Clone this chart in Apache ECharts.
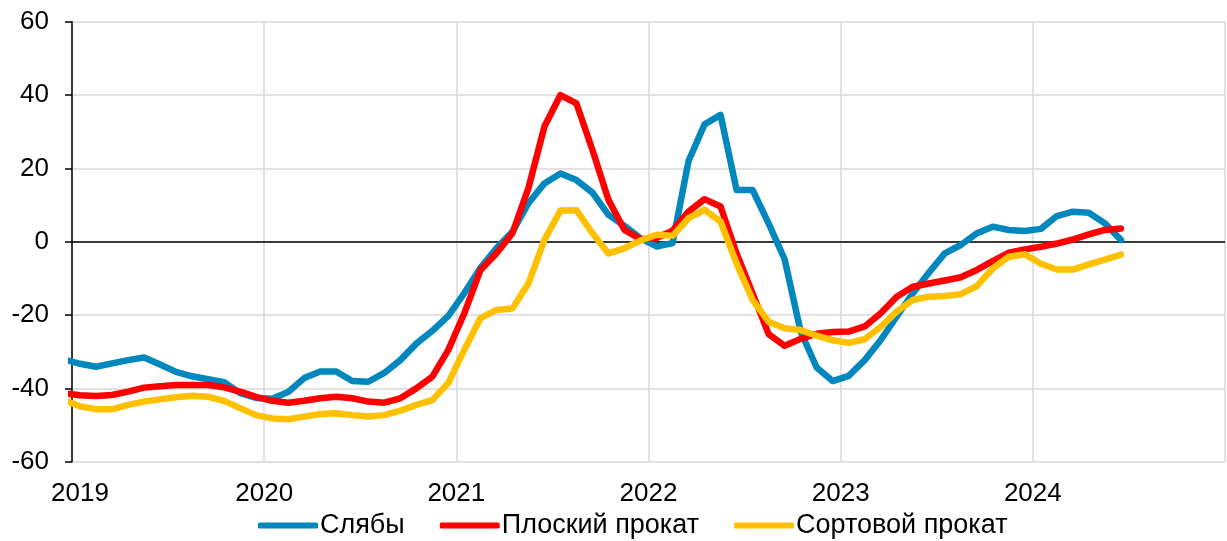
<!DOCTYPE html>
<html>
<head>
<meta charset="utf-8">
<script src="https://cdn.jsdelivr.net/npm/echarts@6/dist/echarts.min.js"></script>
<style>
html,body{margin:0;padding:0;background:#fff;}
#chart{width:1227px;height:541px;}
</style>
</head>
<body>
<div id="chart"></div>
<script>
// Monthly data, mid-month points, starting Dec 2018 (first point clipped at the axis)
const startYear = 2019;
const endYear = 2025;
const firstMonthOffset = -1; // Dec 2018 relative to Jan 2019
const seriesNames = ['Слябы', 'Плоский прокат', 'Сортовой прокат'];
const yTicks = { min: -60, max: 60, step: 20 };

const slabs = [
  -32.1,
  -33.3, -34.1, -33.2, -32.3, -31.6, -33.5, -35.5, -36.7, -37.5, -38.3, -41.3, -42.6,
  -42.8, -41.0, -37.2, -35.4, -35.4, -38.0, -38.2, -35.8, -32.3, -27.8, -24.3, -20.2,
  -14.0, -7.2, -1.8, 2.7, 10.5, 15.9, 18.6, 16.8, 13.4, 7.3, 4.3, 0.9,
  -1.3, -0.4, 22.0, 32.0, 34.6, 14.1, 14.1, 5.0, -4.8, -24.5, -34.3, -38.0,
  -36.6, -32.3, -26.8, -20.4, -14.1, -8.5, -3.2, -0.9, 2.3, 4.1, 3.2, 2.9,
  3.5, 7.0, 8.2, 7.9, 5.0, 0.5
];
const flat = [
  -41.3,
  -41.9, -42.1, -41.8, -40.9, -39.8, -39.4, -39.1, -39.1, -39.1, -39.7, -40.9, -42.3,
  -43.4, -43.9, -43.4, -42.7, -42.3, -42.7, -43.6, -43.9, -42.7, -40.0, -36.8, -29.5,
  -19.5, -7.8, -3.2, 2.3, 14.6, 31.4, 40.0, 37.7, 25.0, 11.4, 3.2, 0.7,
  1.0, 3.0, 8.2, 11.6, 9.6, -3.2, -14.1, -25.2, -28.4, -26.5, -25.1, -24.6,
  -24.5, -23.1, -19.5, -15.0, -12.3, -11.4, -10.6, -9.7, -7.7, -5.3, -3.0, -2.1,
  -1.4, -0.5, 0.6, 2.0, 3.2, 3.6
];
const bars = [
  -43.2,
  -44.9, -45.7, -45.7, -44.5, -43.6, -43.0, -42.4, -42.0, -42.3, -43.4, -45.4, -47.3,
  -48.2, -48.4, -47.7, -47.0, -46.8, -47.3, -47.7, -47.3, -46.1, -44.5, -43.2, -38.5,
  -29.5, -20.9, -18.6, -18.2, -11.4, 0.5, 8.5, 8.6, 2.3, -3.2, -1.8, 0.3,
  1.9, 1.6, 6.4, 8.7, 5.5, -5.9, -15.9, -21.8, -23.6, -24.1, -25.6, -26.9,
  -27.6, -26.6, -23.2, -19.1, -15.9, -15.0, -14.8, -14.3, -12.1, -7.3, -4.1, -3.4,
  -6.0, -7.6, -7.6, -6.2, -4.9, -3.5
];
const colors = ['#0087BE', '#FF0000', '#FFC000'];

function toPoints(arr) {
  return arr.map((v, i) => [firstMonthOffset + i + 0.5, v]);
}

const FONT = 'Liberation Sans, Arial, sans-serif';
const FS = 26;
const chart = echarts.init(document.getElementById('chart'));

const seriesData = [slabs, flat, bars];
const series = seriesData.map((arr, k) => ({
  name: seriesNames[k],
  type: 'line',
  data: toPoints(arr),
  symbol: 'none',
  clip: true,
  smooth: false,
  lineStyle: { color: colors[k], width: 6.5, cap: 'round', join: 'round' },
  itemStyle: { color: colors[k] },
  z: 3 + k,
  animation: false
}));
series[0].markLine = {
  silent: true,
  symbol: 'none',
  label: { show: false },
  lineStyle: { color: '#000', width: 1.6, type: 'solid' },
  data: [{ yAxis: 0 }],
  animation: false,
  z: 2
};

chart.setOption({
  animation: false,
  backgroundColor: '#fff',
  textStyle: { fontFamily: FONT },
  grid: { left: 72, right: 2, top: 21.7, bottom: 79.3, containLabel: false, outerBoundsMode: 'none' },
  xAxis: {
    type: 'value',
    min: 0, max: (endYear - startYear) * 12, interval: 12,
    axisLine: { show: false },
    axisTick: { show: false },
    splitLine: { show: true, lineStyle: { color: '#d9d9d9', width: 1.5 } },
    axisLabel: {
      fontSize: FS, color: '#000', fontFamily: FONT, margin: 19,
      showMaxLabel: false,
      formatter: v => {
        const y = startYear + v / 12;
        if (y >= endYear) return '';
        return v === 0 ? '{first|' + y + '}' : String(y);
      },
      rich: { first: { fontSize: FS, color: '#000', fontFamily: FONT, padding: [0, 0, 0, 16] } }
    }
  },
  yAxis: {
    type: 'value',
    min: yTicks.min, max: yTicks.max, interval: yTicks.step,
    axisLine: { show: true, onZero: false, lineStyle: { color: '#000', width: 1.5 } },
    axisTick: { show: true, inside: false, length: 7, lineStyle: { color: '#000', width: 1.5 } },
    splitLine: { show: true, lineStyle: { color: '#d9d9d9', width: 1.5 } },
    axisLabel: { fontSize: FS, color: '#000', fontFamily: FONT, margin: 23 }
  },
  legend: {
    data: seriesNames,
    bottom: 2,
    left: 258,
    padding: 0,
    icon: 'roundRect',
    itemWidth: 60,
    itemHeight: 6,
    itemGap: 35,
    textStyle: { fontSize: 27, color: '#000', fontFamily: FONT, padding: [0, 0, 0, -3] }
  },
  series: series
});
</script>
</body>
</html>
